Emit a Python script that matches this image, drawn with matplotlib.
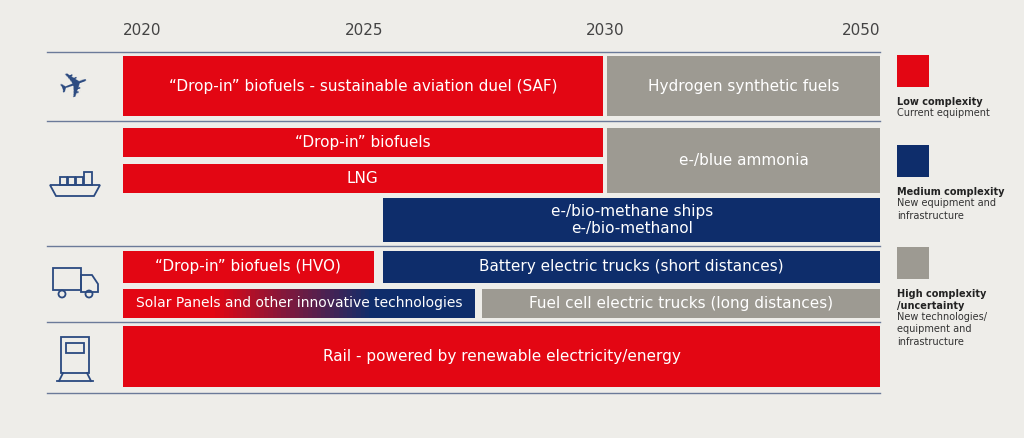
import matplotlib
matplotlib.use("Agg")
import matplotlib.pyplot as plt
import numpy as np
from matplotlib.colors import to_rgb
from matplotlib.patches import Rectangle, Polygon, Circle

# ---- data ----
years = [2020, 2025, 2030, 2050]
labels = ['\u201cDrop-in\u201d biofuels - sustainable aviation duel (SAF)', 'Hydrogen synthetic fuels',
          '\u201cDrop-in\u201d biofuels', 'LNG', 'e-/blue ammonia', 'e-/bio-methane ships\ne-/bio-methanol',
          '\u201cDrop-in\u201d biofuels (HVO)', 'Battery electric trucks (short distances)',
          'Solar Panels and other innovative technologies', 'Fuel cell electric trucks (long distances)',
          'Rail - powered by renewable electricity/energy']
starts = [2020, 2030.15, 2020, 2020, 2030.15, 2025.4, 2020, 2025.4, 2020, 2027.45, 2020]
ends =   [2029.95, 2050, 2029.95, 2029.95, 2050, 2050, 2025.2, 2050, 2027.3, 2050, 2050]
complexity = ['low', 'high', 'low', 'low', 'high', 'medium', 'low', 'medium', 'gradient', 'high', 'low']
row_top = [56, 56, 128, 164, 128, 198, 251, 251, 289, 289, 326]
row_bot = [116, 116, 157, 193, 193, 242, 283, 283, 318, 318, 387]
separators = [52, 121, 246, 322, 393]
legend_titles = ['Low complexity', 'Medium complexity', 'High complexity\n/uncertainty']
legend_sub = ['Current equipment', 'New equipment and\ninfrastructure', 'New technologies/\nequipment and\ninfrastructure']

RED, NAVY, GRAY = '#E30613', '#0E2D6B', '#9D9A92'
BG = '#EEEDE9'
cols = {'low': RED, 'medium': NAVY, 'high': GRAY}

def fwd(y):
    y = np.asarray(y, float)
    return np.where(y <= 2030, (y - 2020) * 48.2, 482 + (y - 2030) * 13.75)
def inv(p):
    p = np.asarray(p, float)
    return np.where(p <= 482, 2020 + p / 48.2, 2030 + (p - 482) / 13.75)

fig = plt.figure(figsize=(10.24, 4.38), dpi=100, facecolor=BG)
ax = fig.add_axes([47/1024, 1-396/438, 833/1024, 344/438])
ax.set_facecolor(BG)
ax.set_xscale('function', functions=(fwd, inv))
ax.set_xlim(inv(47-123), 2050)
ax.set_ylim(396, 52)
for s in ax.spines.values():
    s.set_visible(False)
ax.set_yticks([])
ax.set_xticks(years)
ax.set_xticklabels([str(y) for y in years])
ax.xaxis.tick_top()
ax.tick_params(axis='x', length=0, pad=10, labelsize=11, labelcolor='#444444')
for lab, ha in zip(ax.get_xticklabels(), ['left', 'center', 'center', 'right']):
    lab.set_ha(ha)

for y in separators:
    ax.axhline(y, color='#6B7A99', lw=1, clip_on=False)

for lab, s, e, c, t, b in zip(labels, starts, ends, complexity, row_top, row_bot):
    if c == 'gradient':
        n = 80
        edges = np.linspace(s, e, n + 1)
        r0, r1 = np.array(to_rgb(RED)), np.array(to_rgb(NAVY))
        for i in range(n):
            f = min(1, max(0, (i / n - 0.25) / 0.45))
            ax.barh((t + b) / 2, edges[i+1] - edges[i], left=edges[i], height=b - t,
                    color=r0 * (1 - f) + r1 * f, lw=0)
        fs = 10
    else:
        ax.barh((t + b) / 2, e - s, left=s, height=b - t, color=cols[c], lw=0)
        fs = 11
    mid = inv((fwd(s) + fwd(e)) / 2)
    ax.text(mid, (t + b) / 2, lab, color='white', ha='center', va='center', fontsize=fs,
            linespacing=1.2)

# icons (figure pixel coords)
ic = fig.add_axes([0, 0, 1, 1], facecolor='none')
ic.set_xlim(0, 1024); ic.set_ylim(438, 0); ic.axis('off')
kw = dict(fill=False, ec='#2B4A80', lw=1.3)
ic.text(75, 86, '\u2708', fontsize=26, color='#2B4A80', ha='center', va='center', rotation=20)
ic.add_patch(Polygon([[50, 185], [100, 185], [94, 196], [56, 196]], closed=True, **kw))
for i in range(3):
    ic.add_patch(Rectangle((60 + i * 8, 177), 7, 8, **kw))
ic.add_patch(Rectangle((84, 172), 8, 13, **kw))
ic.add_patch(Rectangle((53, 268), 28, 22, **kw))
ic.add_patch(Polygon([[81, 275], [92, 275], [98, 284], [98, 292], [81, 292]], closed=True, **kw))
ic.add_patch(Circle((62, 294), 3.5, **kw)); ic.add_patch(Circle((89, 294), 3.5, **kw))
ic.add_patch(Rectangle((61, 337), 28, 36, **kw))
ic.add_patch(Rectangle((66, 343), 18, 10, **kw))
ic.plot([57, 93], [381, 381], color='#2B4A80', lw=1.3)
ic.plot([63, 59], [373, 381], color='#2B4A80', lw=1.3)
ic.plot([87, 91], [373, 381], color='#2B4A80', lw=1.3)

# legend
for y0, c, tt, ss in zip([55, 145, 247], [RED, NAVY, GRAY], legend_titles, legend_sub):
    ic.add_patch(Rectangle((897, y0), 32, 32, color=c, lw=0))
    ic.text(897, y0 + 42, tt, fontsize=7, fontweight='bold', color='#222222', va='top', linespacing=1.3)
    nl = tt.count('\n') + 1
    ic.text(897, y0 + 42 + nl * 11.5, ss, fontsize=7, color='#333333', va='top', linespacing=1.3)

fig.savefig('out.png', dpi=100, facecolor=BG)
